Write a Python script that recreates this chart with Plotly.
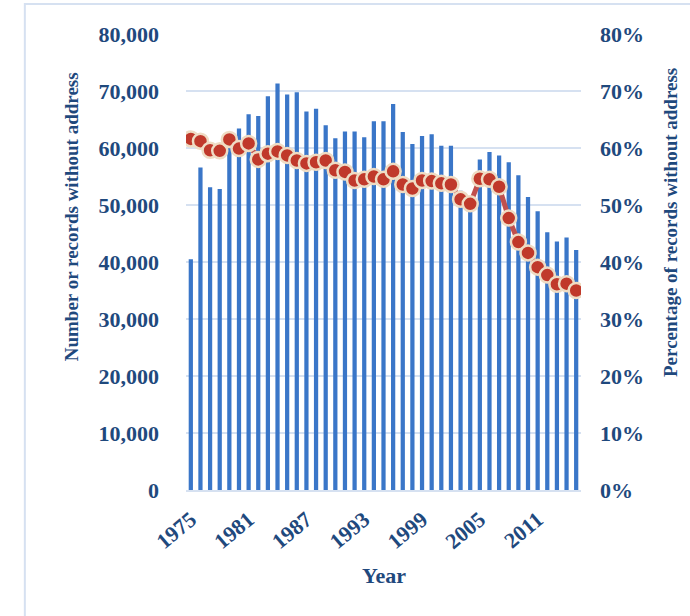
import plotly.graph_objects as go

years = list(range(1975, 2016))
records_without_address = [40500, 56600, 53100, 52800, 61000, 63400, 65900, 65600, 69100, 71300,
                           69400, 69800, 66400, 66900, 64000, 61700, 62900, 62900, 61900, 64700,
                           64700, 67700, 62800, 60700, 62100, 62400, 60400, 60400, 52500, 49500,
                           58000, 59300, 58700, 57500, 55200, 51400, 48900, 45200, 43600, 44300, 42100]
pct_without_address = [61.6, 61.2, 59.6, 59.5, 61.5, 59.9, 60.8, 58.0, 59.0, 59.4,
                       58.7, 57.8, 57.3, 57.5, 57.8, 56.1, 55.8, 54.3, 54.5, 55.0,
                       54.5, 55.9, 53.6, 52.9, 54.3, 54.2, 53.8, 53.6, 51.0, 50.2,
                       54.6, 54.5, 53.2, 47.7, 43.5, 41.6, 39.1, 37.7, 36.1, 36.2, 35.0]
x_tick_years = [1975, 1981, 1987, 1993, 1999, 2005, 2011]

TXT = '#1f497d'
GRID = '#d6e1f1'
FONT = 'Liberation Serif'

fig = go.Figure()
fig.add_trace(go.Bar(x=years, y=records_without_address, marker=dict(color='#3a76c8', line=dict(width=0)),
                     yaxis='y', showlegend=False))
fig.add_trace(go.Scatter(x=years, y=[p / 100 for p in pct_without_address], yaxis='y2', mode='lines+markers',
                         line=dict(color='#c0504d', width=5),
                         marker=dict(size=15, color='#c0392b', line=dict(color='#efdcc4', width=2.5)),
                         showlegend=False))

fig.update_layout(
    width=690, height=616,
    margin=dict(l=186, r=109, t=34, b=126),
    paper_bgcolor='white', plot_bgcolor='white',
    bargap=0.56,
    font=dict(family=FONT, color=TXT, size=22, weight='bold'),
    xaxis=dict(range=[1974.5, 2015.5], tickmode='array', tickvals=x_tick_years,
               tickangle=-40, showgrid=False, zeroline=False, showline=True, linecolor=GRID, linewidth=2,
               ticks='', ticklabelstandoff=6,
               tickfont=dict(family=FONT, size=22, color=TXT, weight='bold')),
    yaxis=dict(range=[0, 80000], dtick=10000, tickformat=',', showgrid=True, gridcolor=GRID, gridwidth=2,
               zeroline=False, showline=False, ticks='', ticklabelstandoff=26,
               tickfont=dict(family=FONT, size=22, color=TXT, weight='bold')),
    yaxis2=dict(range=[0, 0.8], dtick=0.1, tickformat='.0%', overlaying='y', side='right',
                showgrid=False, zeroline=False, showline=False, ticks='', ticklabelstandoff=18,
                tickfont=dict(family=FONT, size=22, color=TXT, weight='bold')),
    shapes=[dict(type='rect', xref='paper', yref='paper', x0=-0.408, x1=1.6, y0=-0.6, y1=1.066,
                 line=dict(color=GRID, width=2), layer='below')],
    annotations=[
        dict(text='Number or records without address', xref='paper', yref='paper', x=-0.289, y=0.600,
             xanchor='center', yanchor='middle',
             textangle=-90, showarrow=False, font=dict(family=FONT, size=19, color=TXT, weight='bold')),
        dict(text='Percentage of records without address', xref='paper', yref='paper', x=1.227, y=0.587,
             xanchor='center', yanchor='middle',
             textangle=-90, showarrow=False, font=dict(family=FONT, size=19, color=TXT, weight='bold')),
        dict(text='Year', xref='paper', yref='paper', x=0.502, y=-0.187, showarrow=False,
             xanchor='center', yanchor='middle',
             font=dict(family=FONT, size=22, color=TXT, weight='bold')),
    ],
)

fig.write_html('out.html', config={'displayModeBar': False},
               post_script="document.body.style.margin='0';document.body.style.overflow='hidden';")
